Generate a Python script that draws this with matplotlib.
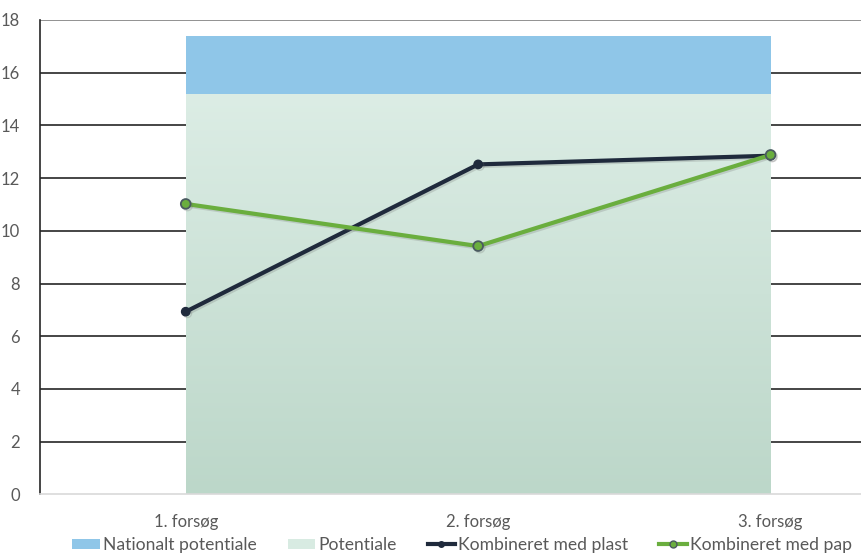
import numpy as np
import matplotlib
matplotlib.use("Agg")
import matplotlib.pyplot as plt
import matplotlib.patheffects as pe
from matplotlib.colors import LinearSegmentedColormap
from matplotlib.patches import Patch
from matplotlib.lines import Line2D

plt.rcParams['font.family'] = ['Lato', 'DejaVu Sans']

categories = ["1. forsøg", "2. forsøg", "3. forsøg"]
potentiale = [15.2, 15.2, 15.2]
nationalt_potentiale = [2.2, 2.2, 2.2]
kombineret_plast = [6.93, 12.52, 12.85]
kombineret_pap = [11.02, 9.42, 12.88]
y_ticks = [0, 2, 4, 6, 8, 10, 12, 14, 16, 18]

W, H = 861, 553
fig = plt.figure(figsize=(W / 100, H / 100), dpi=100)
left_px, right_px, top_px, bottom_px = 39.5, 916.8, 20, 494.3
ax = fig.add_axes([left_px / W, (H - bottom_px) / H,
                   (right_px - left_px) / W, (bottom_px - top_px) / H])

x = np.arange(1, len(categories) + 1)
ax.set_xlim(0.5, 3.5)
ax.set_ylim(0, 18)

# horizontal gridlines
for t in y_ticks[1:-1]:
    ax.axhline(t, color="#262626", lw=1.2, zorder=0)
ax.axhline(18, color="#7f7f7f", lw=1.2, zorder=0)

# stacked areas
pot = np.array(potentiale)
nat = np.array(nationalt_potentiale)
poly = ax.fill_between(x, 0, pot, color="#d8ebe2", lw=0, zorder=1)
grad = LinearSegmentedColormap.from_list("g", ["#bcd7c9", "#dcede5"])
img = ax.imshow(np.linspace(0, 1, 256).reshape(-1, 1), cmap=grad,
                extent=[x[0], x[-1], 0, pot.max()], origin="lower",
                aspect="auto", zorder=1.5)
img.set_clip_path(poly.get_paths()[0], transform=ax.transData)
ax.fill_between(x, pot, pot + nat, color="#8fc6e8", lw=0, zorder=1.6)

shadow = [pe.SimpleLineShadow(offset=(1.2, -1.2), shadow_color="#666666", alpha=0.22),
          pe.Normal()]
ax.plot(x, kombineret_plast, color="#1f2a3c", lw=3, marker="o", ms=6,
        mfc="#1f2a3c", mec="#1f2a3c", zorder=3, path_effects=shadow)
ax.plot(x, kombineret_pap, color="#6aae3e", lw=3, marker="o", ms=7,
        mfc="#6aae3e", mec="#4a5a60", mew=1.3, zorder=4, path_effects=shadow)

ax.set_yticks(y_ticks)
ax.set_xticks(x)
ax.set_xticklabels(categories)
ax.tick_params(axis="both", length=0, colors="#595959", labelsize=12)
ax.tick_params(axis="x", pad=14)
ax.tick_params(axis="y", pad=14)
for s in ["top", "right"]:
    ax.spines[s].set_visible(False)
ax.spines["left"].set_color("#262626")
ax.spines["left"].set_linewidth(1.2)
ax.spines["bottom"].set_color("#d9d9d9")
ax.spines["bottom"].set_linewidth(1.2)

handles = [
    Patch(facecolor="#8fc6e8", edgecolor="none"),
    Patch(facecolor="#d8ebe2", edgecolor="none"),
    Line2D([0], [0], color="#1f2a3c", lw=3, marker="o", ms=4, mfc="#1f2a3c"),
    Line2D([0], [0], color="#6aae3e", lw=3, marker="o", ms=5, mfc="#6aae3e", mec="#4a5a60"),
]
labels = ["Nationalt potentiale", "Potentiale", "Kombineret med plast", "Kombineret med pap"]
fig.legend(handles, labels, loc="center", bbox_to_anchor=(462 / W, 1 - 545 / H),
           ncol=4, frameon=False, fontsize=12.6, labelcolor="#595959",
           handlelength=1.55, handleheight=0.55, handletextpad=0.17, columnspacing=1.8,
           borderpad=0.2)

fig.savefig("out.png", dpi=100)
